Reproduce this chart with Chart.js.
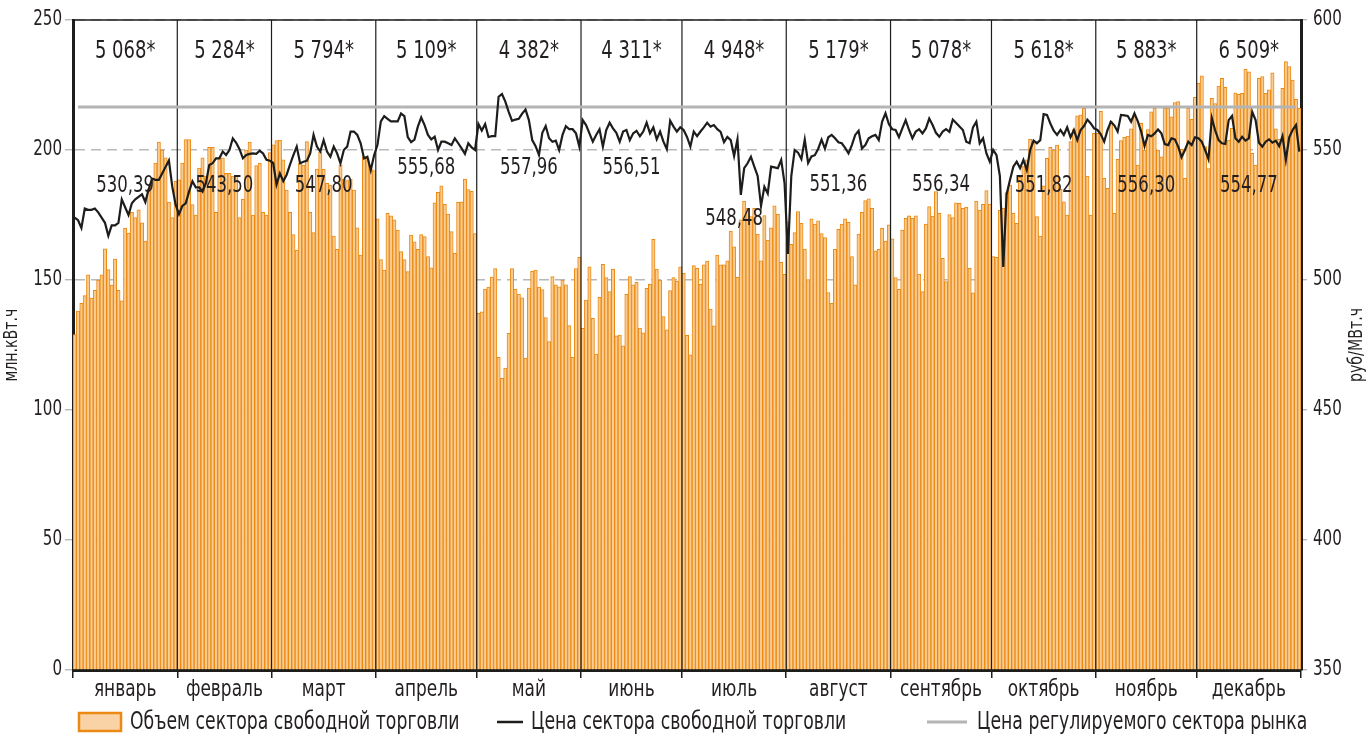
<!DOCTYPE html>
<html lang="ru">
<head>
<meta charset="utf-8">
<title>Объем и цена сектора свободной торговли</title>
<script src="https://cdn.jsdelivr.net/npm/chart.js@4.4.1/dist/chart.umd.min.js"></script>
<style>
  html, body { margin: 0; padding: 0; background: #fff; }
  #chart { display: block; }
</style>
</head>
<body>
<canvas id="chart" width="1369" height="734"></canvas>
<script>
// === DATA ===
const months = ['январь', 'февраль', 'март', 'апрель', 'май', 'июнь', 'июль', 'август', 'сентябрь', 'октябрь', 'ноябрь', 'декабрь'];
const monthDays = [31, 28, 31, 30, 31, 30, 31, 31, 30, 31, 30, 31];
const monthTotals = ['5 068*', '5 284*', '5 794*', '5 109*', '4 382*', '4 311*', '4 948*', '5 179*', '5 078*', '5 618*', '5 883*', '6 509*'];
const monthAvgPrice = ['530,39', '543,50', '547,80', '555,68', '557,96', '556,51', '548,48', '551,36', '556,34', '551,82', '556,30', '554,77'];
const volumeTicks = [0, 50, 100, 150, 200, 250];
const priceTicks = [350, 400, 450, 500, 550, 600];
const regulatedPrice = 566.5;

// daily volume, млн.кВт.ч
const volume = [
  129, 138, 141, 144, 152, 143, 146, 150, 152, 162, 154, 148, 158, 146, 142, 170, 168, 176, 174, 177, 172, 165, 185, 188, 195, 203, 200, 197, 180, 174, 188,
  188.5, 195, 204, 204, 179, 175, 193, 197, 190, 201, 201, 176, 197, 197, 191, 191, 190, 190, 174, 181, 200, 203, 175, 194, 195, 176, 175, 199,
  202, 203.6, 203.8, 196.2, 184.6, 176, 167.5, 161.5, 195.1, 194.2, 203.2, 176, 168.2, 192.7, 199.3, 192.7, 187.2, 186.5, 166.9, 161.8, 194.2, 188.7, 188.2, 188.7, 184.6, 170.1, 159.6, 197.4, 196.8, 192.6, 192.1,
  173.5, 157.9, 153.8, 175.6, 174.7, 173.1, 169.2, 160.9, 157.9, 153.2, 167.3, 164.7, 161.8, 167.5, 166.7, 159, 154.7, 179.7, 183.7, 186.2, 179.1, 175.4, 168.6, 160.3, 179.9, 180.1, 188.8, 184.8, 184.1, 167.9,
  137.2, 137.8, 146.5, 147.3, 151.1, 154.4, 120.3, 112.2, 116.1, 129.5, 154.4, 146.5, 144.6, 143.1, 120, 146.9, 153.3, 153.8, 147.3, 146.3, 135.5, 126.3, 151.3, 148.1, 147.4, 150, 148.1, 132.5, 120.3, 154.4, 158.7,
  131.4, 142.3, 155.1, 135.3, 121.5, 143.3, 156, 150.9, 145.5, 154.2, 128.5, 128.8, 124.7, 144.5, 151.3, 148.1, 149.1, 131.5, 129.7, 146.8, 148.3, 165.6, 154.2, 150, 135.9, 130.8, 145.9, 150.9, 149.6, 155.1,
  152.6, 128.7, 121.2, 155.5, 154.5, 148.3, 155.8, 157.3, 138.8, 132.4, 159.6, 155.8, 155.8, 157.4, 168.8, 162.8, 151, 173.1, 180.4, 177.6, 174.4, 177.6, 167.7, 157.4, 174.8, 165.4, 170.1, 178.5, 175.3, 156.8, 152.2,
  172.4, 163.7, 168.2, 176.3, 171.8, 161.9, 150.2, 173.5, 171.5, 172.8, 167.9, 166.3, 145.2, 141, 161.8, 169.5, 171.5, 173.5, 172.2, 159, 148.1, 167.7, 176, 180.5, 181.2, 177.6, 161.2, 161.8, 169.9, 165, 171.2,
  165.8, 150.9, 146.4, 169.2, 173.7, 174.7, 173.7, 174.7, 152.3, 145.5, 171.5, 178.2, 174.6, 184, 175.6, 158.3, 149.4, 175.2, 174, 179.7, 179.5, 177.6, 178, 154.5, 145.1, 180.4, 176.9, 179.1, 184.4, 179.2,
  159, 158.7, 176.9, 177.6, 183.6, 186.5, 175.6, 171.8, 189.5, 193.6, 196.2, 204.1, 202.8, 174.4, 166.9, 186.2, 196.8, 201, 200, 201.9, 184.9, 180.1, 175, 203.2, 207.9, 213.1, 213.5, 216, 190, 175, 206.4,
  206.4, 214.9, 189.1, 185.3, 210.9, 175.6, 196.4, 203.6, 204.9, 205.4, 208.1, 212.8, 194.2, 210.3, 200, 207.9, 214.7, 216, 200, 197.4, 216, 216, 212.8, 218.2, 218.6, 200.3, 189.1, 216, 211.8, 220.3,
  225.6, 228.5, 201.3, 192.9, 219.9, 217.9, 224.6, 227.6, 224.1, 203.8, 208.3, 222, 221.4, 221.8, 231, 230.1, 198.7, 194.2, 227.6, 228.2, 221.8, 223.1, 229.7, 208.1, 204.1, 223.7, 234, 232.1, 226.9, 219.5, 216
];

// daily price, руб/МВт.ч
const price = [
  524, 523, 520, 527.5, 527, 527, 527.5, 526, 524, 522, 517, 521, 521, 522, 531, 528, 525, 529.5, 531, 532, 533, 530, 535, 539, 538.5, 538.5, 541, 543.5, 546, 536, 529,
  525.3, 528.5, 529.5, 534, 538, 535.6, 535.6, 534, 537.2, 544.2, 544.9, 546.8, 546.8, 549.4, 548.1, 550, 554.5, 552.8, 550.3, 546.8, 548.1, 548.5, 548.7, 548.5, 549.7, 548.7, 546.2, 545.9,
  545, 536.7, 541, 538, 540.5, 544.4, 548, 551.3, 544.9, 545.5, 545.8, 548.7, 555.8, 551.3, 549.4, 553.8, 549.4, 547.4, 551.3, 548.7, 544.9, 550, 551.3, 557.1, 557.1, 555.8, 552.6, 546.8, 547.4, 542.2, 548,
  552, 561, 563, 562, 561, 561, 561, 564, 563, 555, 553, 554, 559, 562.5, 559.6, 555.8, 554.1, 555.1, 550, 553.2, 553.2, 552.6, 551.9, 554.5, 552.6, 550.6, 548.5, 552.6, 551, 550,
  560, 557.5, 560, 555, 555.3, 555.3, 570.5, 571.5, 568.6, 564.7, 561.2, 561.7, 562, 564, 565.6, 561.5, 553.8, 551.5, 548.1, 556.6, 559.2, 554.5, 553.2, 553.6, 550, 555.8, 559.2, 558, 558, 556.4, 551.3,
  561.5, 559.6, 556.4, 553.2, 555.8, 558, 551.3, 557.7, 560.5, 558.3, 556.6, 553.2, 557.1, 557.7, 553.8, 556.4, 557.4, 555.3, 557.1, 560.5, 556.4, 558.7, 554.1, 557.1, 553.2, 550.3, 561.3, 559, 557.1, 558.7,
  557.7, 555, 551.3, 557.1, 555.3, 557.1, 558.7, 560.5, 559, 559.6, 558, 557, 553, 555, 553.8, 547.7, 554.1, 532.7, 543, 544.9, 547.4, 543.6, 540, 528.5, 535.9, 533.3, 543.6, 543.3, 543, 546.2, 537.2,
  510, 540, 550, 549, 546.5, 554, 545, 547.5, 548, 550.5, 554, 550.5, 554.9, 555.8, 554.5, 553, 552.6, 550.8, 548.7, 551.9, 555.8, 557.4, 550.6, 551.9, 554.5, 555.3, 555.8, 553.8, 560.9, 564.1, 560,
  558, 557.7, 554.9, 558.3, 561.5, 557.7, 554.5, 557.1, 558, 556.4, 558.3, 562.1, 559.6, 556.6, 555.1, 557.1, 558, 557, 561.7, 560.4, 559, 557.7, 553.2, 552.6, 558.7, 560.9, 552.6, 554.5, 548.7, 545.5,
  550, 548, 540, 505, 533, 538.5, 543.6, 545.5, 543, 546.2, 542.3, 550, 553.6, 552.6, 553.8, 563.8, 563.5, 560.2, 557.4, 555.8, 557.7, 555.8, 558.7, 554.9, 557.7, 553.8, 557.7, 559.2, 561.7, 560.2, 558.3,
  557.7, 556, 553.2, 557.7, 560.9, 559.5, 557.1, 563.5, 563.3, 563.1, 560.9, 564.1, 561, 557.1, 551.5, 555.8, 555.3, 556.4, 557.9, 556.4, 552.3, 551.9, 554.5, 554.1, 551.3, 547.2, 550, 553.2, 551.9, 554.9,
  554.5, 553.2, 550, 546.5, 562.3, 557.5, 553.8, 552.6, 552.3, 561.5, 563.1, 554.5, 553.2, 555.1, 553.6, 554.5, 564.7, 561.5, 552.8, 551.3, 553.2, 554.1, 552.8, 553.6, 551.5, 555.3, 546.2, 554.9, 557.7, 559.6, 549.4
];

// === LABELS ===
// no narrow font is installed, so condensed glyphs are squeezed a little more on the canvas
const FONT = '"Liberation Sans Narrow", "DejaVu Sans Condensed", "Arial Narrow", sans-serif';
const TEXT = '#231f20';

const dayLabels = [];
const monthStart = [];
months.forEach((m, i) => {
  monthStart.push(dayLabels.length);
  for (let d = 1; d <= monthDays[i]; d++) dayLabels.push(d + '.' + (i + 1));
});
const boundary = new Set(monthStart);

// height of the average-price captions, on the price axis
const avgLabelLevel = [536.3, 536.3, 536.3, 542.9, 542.9, 542.9, 523.3, 536.7, 536.7, 536, 536, 536];

function text(ctx, str, x, y, size, sx, align) {
  ctx.save();
  ctx.font = size + 'px ' + FONT;
  ctx.textAlign = align || 'center';
  ctx.translate(x, y);
  ctx.scale(sx, 1);
  ctx.fillText(str, 0, 0);
  ctx.restore();
}

function edge(chart, i) {
  const x = chart.scales.x;
  const w = x.getPixelForValue(1) - x.getPixelForValue(0);
  return x.getPixelForValue(0) + (i - 0.5) * w;
}

// === DECOR: month separators, captions, tick labels, axis titles, legend ===
const decor = {
  id: 'decor',
  afterDatasetDraw(chart, args) {
    if (args.index !== 0) return;
    const { ctx, chartArea: a } = chart;
    ctx.save();
    ctx.strokeStyle = '#1d1d1b';
    ctx.lineWidth = 1.2;
    monthStart.slice(1).forEach(s => {
      const px = edge(chart, s);
      ctx.beginPath();
      ctx.moveTo(px, a.top);
      ctx.lineTo(px, a.bottom);
      ctx.stroke();
    });
    ctx.restore();
  },
  afterDraw(chart) {
    const { ctx, chartArea: a, scales: { y, y2 } } = chart;
    ctx.save();
    // top frame
    ctx.strokeStyle = '#1d1d1b';
    ctx.lineWidth = 1.5;
    ctx.beginPath();
    ctx.moveTo(a.left, a.top);
    ctx.lineTo(a.right, a.top);
    ctx.stroke();

    ctx.fillStyle = TEXT;
    ctx.textBaseline = 'middle';
    months.forEach((m, i) => {
      const cx = (edge(chart, monthStart[i]) + edge(chart, monthStart[i] + monthDays[i])) / 2;
      text(ctx, monthTotals[i], cx, a.top + 31, 25, 0.8);
      text(ctx, monthAvgPrice[i], cx, y2.getPixelForValue(avgLabelLevel[i]), 23, 0.8);
      ctx.textBaseline = 'alphabetic';
      text(ctx, m, cx, a.bottom + 26, 23, 0.82);
      ctx.textBaseline = 'middle';
    });

    // tick labels
    volumeTicks.forEach(v => text(ctx, String(v), a.left - 11, y.getPixelForValue(v), 21, 0.8, 'right'));
    priceTicks.forEach(v => text(ctx, String(v), a.right + 12, y2.getPixelForValue(v), 21, 0.8, 'left'));

    // axis titles
    const midY = (a.top + a.bottom) / 2;
    [[12, 'млн.кВт.ч'], [chart.width - 12, 'руб/МВт.ч']].forEach(([tx, t]) => {
      ctx.save();
      ctx.translate(tx, midY);
      ctx.rotate(-Math.PI / 2);
      text(ctx, t, 0, 0, 19, 0.83);
      ctx.restore();
    });

    // legend
    const ly = chart.height - 12;
    const ds = chart.data.datasets;
    ctx.fillStyle = '#f9d3a6';
    ctx.fillRect(79, ly - 9, 42, 18);
    ctx.strokeStyle = ds[0].borderColor;
    ctx.lineWidth = 2.5;
    ctx.strokeRect(79, ly - 9, 42, 18);
    ctx.fillStyle = TEXT;
    text(ctx, ds[0].label, 130, ly + 1, 24, 0.8, 'left');

    ctx.strokeStyle = ds[2].borderColor;
    ctx.lineWidth = 2.5;
    ctx.beginPath(); ctx.moveTo(497, ly); ctx.lineTo(523, ly); ctx.stroke();
    text(ctx, ds[2].label, 531, ly + 1, 24, 0.8, 'left');

    ctx.strokeStyle = ds[1].borderColor;
    ctx.lineWidth = 3;
    ctx.beginPath(); ctx.moveTo(927, ly); ctx.lineTo(967, ly); ctx.stroke();
    text(ctx, ds[1].label, 977, ly + 1, 24, 0.8, 'left');
    ctx.restore();
  }
};

// === CHART ===
const ctx = document.getElementById('chart');
new Chart(ctx, {
  data: {
    labels: dayLabels,
    datasets: [{
      type: 'bar',
      label: 'Объем сектора свободной торговли',
      data: volume,
      yAxisID: 'y',
      backgroundColor: '#f9cc92',
      borderColor: '#ec8912',
      borderWidth: { top: 1, left: 1, right: 1, bottom: 0 },
      barPercentage: 1,
      categoryPercentage: 1,
      order: 3
    }, {
      type: 'line',
      label: 'Цена регулируемого сектора рынка',
      data: [{ x: dayLabels[1], y: regulatedPrice }, { x: dayLabels[dayLabels.length - 2], y: regulatedPrice }],
      yAxisID: 'y2',
      borderColor: '#b4b4b4',
      borderWidth: 3,
      pointRadius: 0,
      order: 2
    }, {
      type: 'line',
      label: 'Цена сектора свободной торговли',
      data: price,
      yAxisID: 'y2',
      borderColor: '#1d1d1b',
      borderWidth: 2.2,
      pointRadius: 0,
      tension: 0,
      order: 1
    }]
  },
  options: {
    responsive: false,
    animation: false,
    layout: { padding: { top: 20, left: 0, right: 0, bottom: 0 } },
    plugins: { legend: { display: false }, tooltip: { enabled: false } },
    scales: {
      x: {
        offset: true,
        grid: {
          offset: true,
          drawOnChartArea: false,
          drawTicks: true,
          tickLength: 8,
          lineWidth: 1.5,
          color: c => (c.index === undefined || boundary.has(c.index)) ? '#1d1d1b' : 'rgba(0,0,0,0)',
          tickColor: c => (c.index === undefined || boundary.has(c.index)) ? '#1d1d1b' : 'rgba(0,0,0,0)'
        },
        border: { display: true, color: '#1d1d1b', width: 3 },
        ticks: { display: false, autoSkip: false, maxRotation: 0 },
        afterFit: s => { s.height = 64; }
      },
      y: {
        position: 'left',
        min: 0,
        max: 250,
        ticks: { stepSize: 50, display: false },
        grid: { color: '#b8b8b8', lineWidth: 1.4, tickLength: 8 },
        border: { display: true, color: '#1d1d1b', width: 3, dash: [10, 6] },
        afterFit: s => { s.width = 73; }
      },
      y2: {
        position: 'right',
        min: 350,
        max: 600,
        ticks: { stepSize: 50, display: false },
        grid: { drawOnChartArea: false, color: '#b8b8b8', lineWidth: 1.4, tickLength: 6 },
        border: { display: true, color: '#1d1d1b', width: 3 },
        afterFit: s => { s.width = 68; }
      }
    }
  },
  plugins: [decor]
});
</script>
</body>
</html>
